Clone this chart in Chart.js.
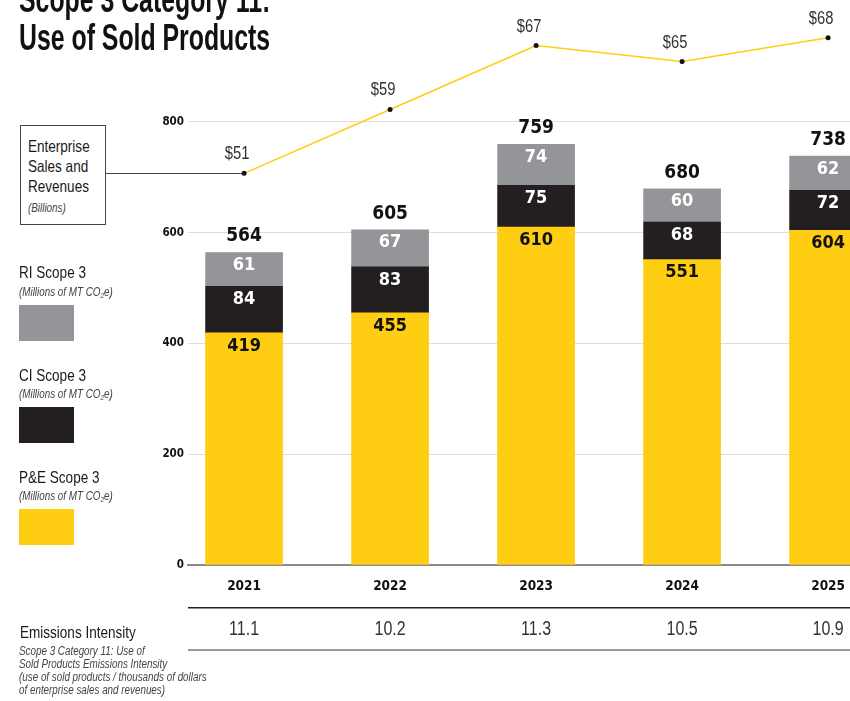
<!DOCTYPE html>
<html>
<head>
<meta charset="utf-8">
<script src="https://cdn.jsdelivr.net/npm/chart.js@4.4.1/dist/chart.umd.min.js"></script>
<style>
  html, body { margin: 0; padding: 0; width: 850px; height: 701px; overflow: hidden; background: #fff; }
  body { position: relative; font-family: "Liberation Sans", Arial, sans-serif; color: #1a1a1a; }
  #chart { position: absolute; left: 0; top: 0; }
  .abs { position: absolute; white-space: nowrap; }
  /* the reference uses a condensed face; squeeze Liberation Sans to match */
  .nar { display: inline-block; transform: scaleX(0.82); transform-origin: left top; }
  .title { left: 19px; top: -19.5px; font-weight: bold; font-size: 36px; line-height: 38px; color: #111;
           transform: scaleX(0.69); transform-origin: left top; }
  .box { left: 20px; top: 125px; width: 86px; height: 100px; box-sizing: border-box; border: 1px solid #444;
         padding: 10px 0 0 7px; font-size: 16.5px; line-height: 20px; background: #fff; }
  .note { font-style: italic; font-size: 12px; line-height: 13px; color: #444; }
  .lab { font-size: 16.5px; line-height: 20px; left: 19px; }
  .sw { left: 19px; width: 55px; height: 36px; }
  sub { font-size: 8px; vertical-align: -2px; }
</style>
</head>
<body>
<canvas id="chart" width="850" height="701"></canvas>

<div class="abs title">Scope 3 Category 11:<br>Use of Sold Products</div>

<div class="abs box"><span class="nar">Enterprise<br>Sales and<br>Revenues<br><span class="note" style="display:inline-block; margin-top:4px">(Billions)</span></span></div>

<div class="abs lab" style="top:262px"><span class="nar">RI Scope 3</span></div>
<div class="abs note" style="left:19px; top:286px"><span class="nar">(Millions of MT CO<sub>2</sub>e)</span></div>
<div class="abs sw" style="top:305px; background:#939598"></div>

<div class="abs lab" style="top:365px"><span class="nar">CI Scope 3</span></div>
<div class="abs note" style="left:19px; top:388px"><span class="nar">(Millions of MT CO<sub>2</sub>e)</span></div>
<div class="abs sw" style="top:407px; background:#231f20"></div>

<div class="abs lab" style="top:467px"><span class="nar">P&amp;E Scope 3</span></div>
<div class="abs note" style="left:19px; top:490px"><span class="nar">(Millions of MT CO<sub>2</sub>e)</span></div>
<div class="abs sw" style="top:509px; background:#ffcd11"></div>

<div class="abs lab" style="left:20px; top:622px"><span class="nar">Emissions Intensity</span></div>
<div class="abs note" style="left:19px; top:645px"><span class="nar">Scope 3 Category 11: Use of<br>Sold Products Emissions Intensity<br>(use of sold products / thousands of dollars<br>of enterprise sales and revenues)</span></div>

<script>
// values
var years = ['2021', '2022', '2023', '2024', '2025'];
var peScope3 = [419, 455, 610, 551, 604];
var ciScope3 = [84, 83, 75, 68, 72];
var riScope3 = [61, 67, 74, 60, 62];
var totals = [564, 605, 759, 680, 738];
var sales = [51, 59, 67, 65, 68];
var intensity = ['11.1', '10.2', '11.3', '10.5', '10.9'];
var yTicks = [0, 200, 400, 600, 800];

var SANS = '"Liberation Sans", Arial, sans-serif';
var HEAVY = '"DejaVu Sans Condensed", "DejaVu Sans", sans-serif';

function pts(arr) {
  return arr.map(function(v, i) { return {x: i, y: v}; });
}

// squeezed text, like the condensed face in the reference
function narrowText(ctx, text, x, y) {
  ctx.save();
  ctx.translate(x, y);
  ctx.scale(0.82, 1);
  ctx.fillText(text, 0, 0);
  ctx.restore();
}

var labelPlugin = {
  id: 'labels',
  beforeDatasetsDraw: function(chart) {
    var ctx = chart.ctx;
    var area = chart.chartArea;
    var first = chart.getDatasetMeta(3).data[0];
    ctx.save();
    // connector from the "Enterprise Sales" box to the first point
    ctx.strokeStyle = '#444';
    ctx.lineWidth = 1;
    ctx.beginPath();
    ctx.moveTo(106, Math.round(first.y) + 0.5);
    ctx.lineTo(first.x, Math.round(first.y) + 0.5);
    ctx.stroke();
    // intensity row lines
    ctx.fillStyle = '#231f20';
    ctx.fillRect(area.left, 607, chart.width - area.left, 1.5);
    ctx.fillStyle = '#9a9a9a';
    ctx.fillRect(area.left, 649, chart.width - area.left, 2);
    ctx.restore();
  },
  afterDatasetsDraw: function(chart) {
    var ctx = chart.ctx;
    var xs = chart.scales.x;
    var segs = [peScope3, ciScope3, riScope3];
    ctx.save();
    ctx.textAlign = 'center';
    ctx.textBaseline = 'middle';

    ctx.font = 'bold 18px ' + HEAVY;
    segs.forEach(function(arr, di) {
      chart.getDatasetMeta(di).data.forEach(function(bar, i) {
        ctx.fillStyle = di === 0 ? '#111' : '#fff';
        ctx.fillText(arr[i], bar.x, bar.y + 13);
      });
    });

    ctx.font = 'bold 19px ' + HEAVY;
    ctx.fillStyle = '#111';
    chart.getDatasetMeta(2).data.forEach(function(bar, i) {
      ctx.fillText(totals[i], bar.x, bar.y - 16);
    });

    ctx.font = '18px ' + SANS;
    ctx.fillStyle = '#333';
    chart.getDatasetMeta(3).data.forEach(function(pt, i) {
      narrowText(ctx, '$' + sales[i], pt.x - 7, pt.y - 19);
    });

    ctx.font = '19.5px ' + SANS;
    ctx.fillStyle = '#333';
    intensity.forEach(function(v, i) {
      narrowText(ctx, v, xs.getPixelForValue(i), 630);
    });
    ctx.restore();
  }
};

var ctx = document.getElementById('chart').getContext('2d');
var chart = new Chart(ctx, {
  data: {
    datasets: [
      { type: 'bar', label: 'P&E Scope 3', data: pts(peScope3), backgroundColor: '#ffcd11', barThickness: 77, order: 2 },
      { type: 'bar', label: 'CI Scope 3', data: pts(ciScope3), backgroundColor: '#231f20', barThickness: 77, order: 2 },
      { type: 'bar', label: 'RI Scope 3', data: pts(riScope3), backgroundColor: '#939598', barThickness: 77, order: 2 },
      { type: 'line', label: 'Enterprise Sales and Revenues', data: pts(sales), yAxisID: 'y2',
        borderColor: '#ffcd11', borderWidth: 1.5, pointRadius: 2.5, pointBackgroundColor: '#111',
        pointBorderWidth: 0, tension: 0, order: 1 }
    ]
  },
  options: {
    responsive: false,
    animation: false,
    layout: { autoPadding: false, padding: { top: 5, bottom: 96, left: 0, right: 0 } },
    plugins: { legend: { display: false }, tooltip: { enabled: false } },
    scales: {
      x: {
        type: 'linear', min: -0.384, max: 4.15, stacked: true, offset: false,
        afterBuildTicks: function(s) { s.ticks = years.map(function(y, i) { return {value: i}; }); },
        afterFit: function(s) { s.height = 40; },
        ticks: {
          padding: 0, color: '#111', font: { family: HEAVY, size: 13.5, weight: 'bold', lineHeight: 3.21 },
          callback: function(v) { return years[v]; }
        },
        grid: { display: false, drawTicks: false, offset: false },
        border: { display: true, color: '#8a8a8a', width: 2 }
      },
      y: {
        stacked: true, min: 0, max: 1000,
        afterBuildTicks: function(s) { s.ticks = yTicks.map(function(v) { return {value: v}; }); },
        afterFit: function(s) { s.width = 188; },
        ticks: { padding: 4, color: '#111', font: { family: HEAVY, size: 11.5, weight: 'bold' } },
        grid: {
          drawTicks: false, lineWidth: 1,
          color: function(c) { return c.tick && c.tick.value === 0 ? 'rgba(0,0,0,0)' : '#dedede'; }
        },
        border: { display: false }
      },
      y2: { type: 'linear', display: false, min: 1.93, max: 71.35 }
    }
  },
  plugins: [labelPlugin]
});
</script>
</body>
</html>
